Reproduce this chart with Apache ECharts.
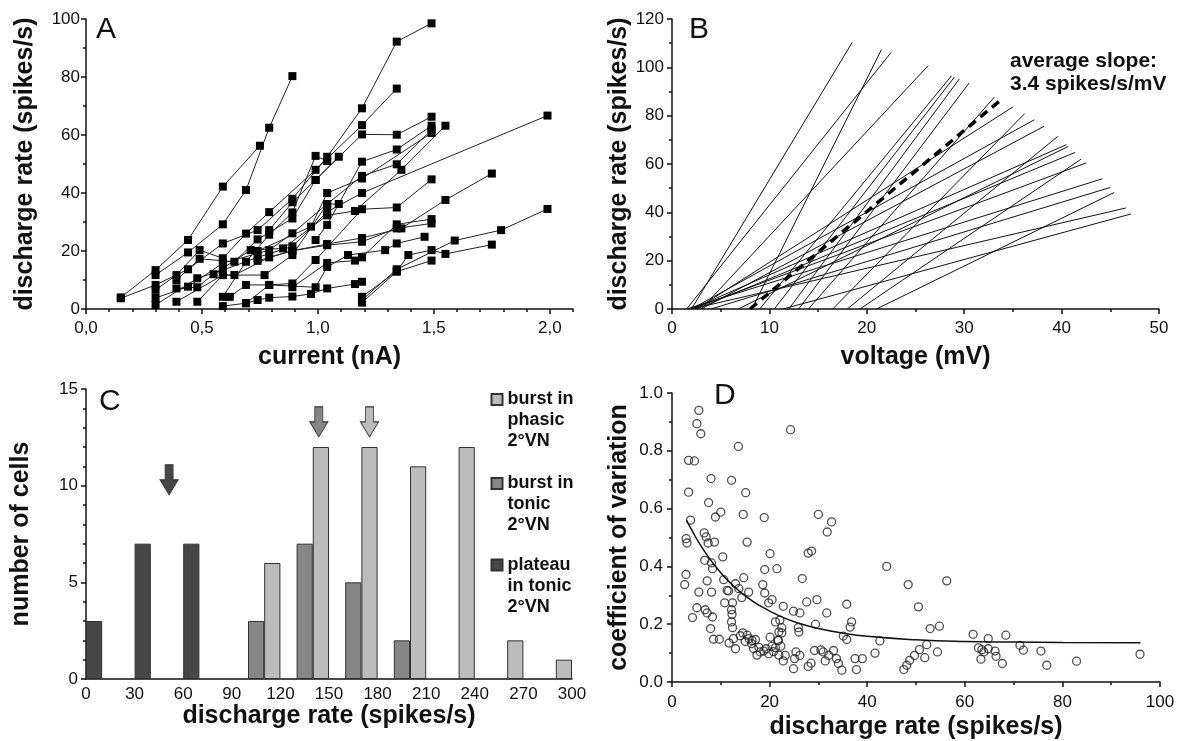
<!DOCTYPE html>
<html>
<head>
<meta charset="utf-8">
<title>Discharge properties of 2°VN</title>
<script src="https://cdn.jsdelivr.net/npm/echarts@6/dist/echarts.min.js"></script>
<style>
  html, body {margin: 0; padding: 0; background: #fff;}
  #main {width: 1180px; height: 741px;}
</style>
</head>
<body>
<div id="main"></div>
<script>
// ---- A: discharge rate for each current step, one list per cell [nA, spikes/s]
var cellsA = [
  [[0.15,4],[0.3,13.4],[0.44,23.8],[0.59,42.2],[0.75,56.3]],
  [[0.3,11.7],[0.44,19.5],[0.59,29.2],[0.69,41],[0.79,62.5],[0.89,80.3]],
  [[0.15,3.7],[0.3,8.3],[0.44,13.7],[0.59,22.6],[0.74,27.2],[0.89,38],[1.04,52.5],[1.19,69.2],[1.34,92.2],[1.49,98.5]],
  [[0.3,6.6],[0.39,11.7],[0.49,20.3],[0.59,17.5],[0.69,26],[0.79,33.4],[0.99,48],[1.19,63.4],[1.34,76]],
  [[0.39,10],[0.49,17.3],[0.64,16.3],[0.74,24],[0.89,31.2],[0.99,44.5],[1.19,60.2],[1.34,60.1],[1.49,66.3]],
  [[0.3,3.8],[0.44,7.7],[0.59,15.8],[0.79,20.3],[0.89,26.1],[1.04,36.2],[1.19,45.9],[1.34,49.9],[1.49,61.8]],
  [[0.3,1.4],[0.48,10.6],[0.59,13.4],[0.74,17.8],[0.89,21.6],[1.04,33.5],[1.19,40],[1.99,66.7]],
  [[0.39,7.1],[0.48,7.5],[0.55,12],[0.71,20.3],[0.85,20.9],[1.04,32.3],[1.16,33.8],[1.36,48],[1.55,63.2]],
  [[0.48,2.5],[0.59,11.7],[0.64,11.7],[0.79,17.8],[0.89,20.1],[1.04,22.4],[1.19,24.5],[1.36,27.8],[1.55,37.6],[1.75,46.7]],
  [[0.62,4.2],[0.69,8.3],[0.79,8.3],[0.89,8.8],[0.99,16.9],[1.19,34.4],[1.34,35],[1.49,44.7]],
  [[0.59,4.2],[0.69,16.3],[0.79,25.6],[0.89,33.3],[0.99,52.8],[1.04,51]],
  [[0.39,2.5],[0.59,11.7],[0.77,11.7],[0.89,18.6],[1.04,36.2],[1.09,36.2]],
  [[0.59,1],[0.69,2],[0.74,3.1],[0.79,3.9],[0.89,4.3],[0.97,5.2],[1.04,7.1],[1.16,8.6],[1.19,9.4]],
  [[0.69,2],[0.79,8.3],[0.99,7.5],[1.04,14.5],[1.13,18.6],[1.29,20.3],[1.34,22.6],[1.46,24.9]],
  [[1.19,2.2],[1.34,12.9],[1.49,16.7]],
  [[1.19,3.1],[1.34,13.7],[1.59,23.6],[1.79,27.2],[1.99,34.5]],
  [[1.19,4.2],[1.34,13],[1.39,18.6],[1.49,20.3],[1.55,19],[1.75,22.2]],
  [[0.89,7.5],[1.04,15.9],[1.16,16.7],[1.19,17.8],[1.34,29.2],[1.49,31]],
  [[0.99,23.8],[1.04,29],[1.19,50.8],[1.34,55],[1.49,63.2]],
  [[0.74,20],[0.97,28.4],[1.04,40],[1.19,45],[1.49,60.7]],
  [[0.74,16.6],[0.89,20.1],[1.04,22],[1.19,23.2],[1.34,27.8],[1.49,29.5]],
  [[0.79,27.2],[0.89,36.8],[0.99,44.5],[1.09,52.5]]
];
var majorTicksA = [0, 0.5, 1, 1.5, 2];
var minorTicksA = [0.1,0.2,0.3,0.4,0.6,0.7,0.8,0.9,1.1,1.2,1.3,1.4,1.6,1.7,1.8,1.9,2.1];

// ---- B: linear fits, from the x-intercept (mV) up to the last point
var fitStartB = [2, 8.2, 1.5, 3, 9, 10.5, 12, 13, 14, 2.5, 16.5, 2, 3, 18, 2, 6.8, 2.5, 19.3, 2, 1.5, 4, 21, 2, 11.4];
var fitEndXB = [18.5, 21.5, 22.5, 26.3, 28.7, 29, 29.5, 30.5, 33.1, 35, 36.2, 37.2, 38.2, 39.6, 40.5, 40.7, 41.4, 42, 42.5, 44.2, 45, 45.4, 46.6, 47.1];
var fitEndYB = [110.3, 107.3, 106.2, 100.7, 96.5, 96, 95.2, 93.5, 87.7, 83.6, 80.8, 78.3, 75.6, 71.4, 68, 67.3, 64.8, 62, 60.4, 53.9, 50.3, 48.2, 41.8, 39.3];
var avgFitB = [[8, 0], [33.7, 86.3]];

// ---- C: histogram, bins of 10 spikes/s (bin start, number of cells)
var phasicBins = [110, 140, 170, 200, 230, 260, 290];
var phasicCounts = [6, 12, 12, 11, 12, 2, 1];
var tonicBins = [100, 130, 160, 190];
var tonicCounts = [3, 7, 5, 2];
var plateauBins = [0, 30, 60];
var plateauCounts = [3, 7, 7];
var meanPlateau = [51.3, 10.3];
var meanTonic = [143.7, 13.3];
var meanPhasic = [175, 13.3];

// ---- D: coefficient of variation vs. discharge rate
var cvPoints = [
  [5.5,0.94],[5.1,0.894],[5.9,0.859],[3.4,0.767],[4.6,0.765],[13.6,0.815],[24.3,0.873],[3.4,0.657],[8.0,0.704],
  [12.2,0.698],[7.5,0.621],[15.1,0.655],[3.8,0.56],[8.9,0.571],[10.0,0.588],[14.6,0.58],[18.9,0.569],[30.0,0.58],
  [32.7,0.554],[31.8,0.519],[2.9,0.496],[6.6,0.516],[7.0,0.502],
  [3.07,0.481],[7.4,0.481],[8.7,0.484],[15.4,0.484],[10.4,0.433],[20.1,0.444],[6.7,0.421],[8.1,0.412],[8.3,0.392],
  [19.0,0.389],[2.87,0.372],[2.6,0.337],[7.2,0.35],[10.6,0.354],[14.7,0.361],[13.0,0.34],[13.7,0.323],[11.3,0.317],
  [11.6,0.315],[15.7,0.311],[5.5,0.311],[8.1,0.311],[18.6,0.337],[19.0,0.308],[20.5,0.285],[19.8,0.274],[14.3,0.292],
  [10.8,0.274],[12.4,0.274],[5.1,0.257],[6.8,0.25],[7.2,0.239],[8.3,0.225],[4.2,0.223],[12.2,0.25],[12.3,0.234],
  [12.2,0.208],[12.4,0.188],[21.2,0.208],[7.9,0.185],[8.5,0.148],[9.7,0.148],[12.6,0.15],[11.7,0.135],[13.0,0.115],
  [14.5,0.17],[15.4,0.162],[15.8,0.15],[16.4,0.144],[17.1,0.147],[16.3,0.133],[16.7,0.116],[17.4,0.093],[18.1,0.104],
  [18.8,0.107],[19.8,0.098],[20.5,0.124],[21.2,0.119],[21.7,0.144],[20.1,0.155],[21.9,0.173],[21.9,0.093],
  [14.0,0.16],[15.0,0.14],[17.8,0.12],[19.3,0.115],[20.8,0.105],
  [27.9,0.446],[28.6,0.453],[21.5,0.392],[26.7,0.358],[44.0,0.40],[27.6,0.277],[29.7,0.285],[22.8,0.262],[24.9,0.245],
  [26.2,0.239],[31.7,0.239],[35.8,0.269],[36.8,0.208],[36.5,0.19],[22.1,0.214],[22.5,0.188],[25.9,0.188],[26.0,0.173],
  [29.4,0.2],[22.5,0.17],[21.8,0.144],[22.3,0.124],[35.1,0.159],[35.8,0.147],[42.6,0.142],[23.2,0.092],[22.8,0.073],
  [25.1,0.081],[25.4,0.104],[26.2,0.092],[24.9,0.046],[29.2,0.109],[30.5,0.111],[31.0,0.104],[32.1,0.092],[31.4,0.073],
  [33.1,0.109],[33.7,0.081],[34.1,0.064],[34.8,0.041],[27.9,0.054],[28.5,0.065],[37.5,0.081],[39.0,0.081],[37.8,0.043],
  [41.6,0.1],
  [48.4,0.337],[56.3,0.35],[50.5,0.26],[52.9,0.185],[54.8,0.193],[61.7,0.165],[68.4,0.162],[64.8,0.15],[52.2,0.129],
  [50.7,0.112],[49.7,0.092],[48.7,0.075],[48.1,0.058],[47.5,0.043],[51.8,0.084],[54.4,0.104],[62.8,0.118],[63.5,0.112],
  [63.9,0.104],[64.8,0.115],[63.3,0.079],[66.2,0.107],[66.4,0.089],[67.7,0.064],[71.3,0.127],[72.0,0.11],[75.6,0.107],
  [76.8,0.058],[82.9,0.072],[95.9,0.096]
];
var fitRateD = [3, 4, 6, 8, 10, 12, 15, 18, 22, 26, 30, 35, 40, 50, 60, 70, 80, 96];
var fitCvD = [0.559, 0.527, 0.469, 0.420, 0.378, 0.342, 0.298, 0.264, 0.229, 0.203, 0.185, 0.169, 0.158, 0.146, 0.140, 0.138, 0.137, 0.136];

var FONT = '"Liberation Sans", Arial, sans-serif';
var INK = '#111';
var arrowPath = 'path://M5,0 H13 V15 H18 L9,30 L0,15 H5 Z';
var nameStyle = {fontSize: 25, fontWeight: 'bold', color: INK, fontFamily: FONT};
var lineStyle = {color: INK, width: 1.5};

function valueAxis(o) {
  var ax = {
    type: 'value', gridIndex: o.grid, min: o.min, max: o.max, interval: o.interval,
    axisLine: {show: true, onZero: false, lineStyle: lineStyle},
    axisTick: {show: true, length: 5, lineStyle: lineStyle},
    minorTick: {show: !!o.minor, splitNumber: o.minor || 5, length: 3, lineStyle: lineStyle},
    splitLine: {show: false},
    axisLabel: {fontSize: 17, color: INK, fontFamily: FONT, margin: o.margin, formatter: o.fmt},
    name: o.name, nameLocation: 'middle', nameGap: o.gap, nameTextStyle: nameStyle
  };
  return ax;
}

var xAxes = [
  // A: labels and long ticks only at the half steps, short ticks every 0.1 on a second axis
  {type: 'value', gridIndex: 0, min: 0, max: 2.1, position: 'bottom',
   axisLine: {onZero: false, lineStyle: lineStyle},
   axisTick: {length: 5, lineStyle: lineStyle, customValues: majorTicksA},
   axisLabel: {fontSize: 17, color: INK, fontFamily: FONT, margin: 11, customValues: majorTicksA,
               formatter: function(v) { return v.toFixed(1).replace('.', ','); }},
   splitLine: {show: false},
   name: 'current (nA)', nameLocation: 'middle', nameGap: 36, nameTextStyle: nameStyle},
  {type: 'value', gridIndex: 0, min: 0, max: 2.1, position: 'bottom',
   axisLine: {show: false}, axisLabel: {show: false}, splitLine: {show: false},
   axisTick: {length: 3, lineStyle: lineStyle, customValues: minorTicksA}},
  valueAxis({grid: 1, min: 0, max: 50, interval: 10, minor: 2, margin: 11, name: 'voltage (mV)', gap: 36}),
  valueAxis({grid: 2, min: 0, max: 300, interval: 30, margin: 7, name: 'discharge rate (spikes/s)', gap: 20}),
  valueAxis({grid: 3, min: 0, max: 100, interval: 20, minor: 2, margin: 12, name: 'discharge rate (spikes/s)', gap: 33})
];
xAxes[3].axisTick.show = false;

var yAxes = [
  valueAxis({grid: 0, min: 0, max: 100, interval: 20, minor: 2, margin: 6, name: 'discharge rate (spikes/s)', gap: 48}),
  valueAxis({grid: 1, min: 0, max: 120, interval: 20, minor: 2, margin: 8, name: 'discharge rate (spikes/s)', gap: 40}),
  valueAxis({grid: 2, min: 0, max: 15, interval: 5, minor: 5, margin: 8, name: 'number of cells', gap: 52}),
  valueAxis({grid: 3, min: 0, max: 1, interval: 0.2, minor: 2, margin: 9, name: 'coefficient of variation', gap: 40,
             fmt: function(v) { return v.toFixed(1); }})
];

var series = [];

// A
cellsA.forEach(function(cell) {
  series.push({
    type: 'line', xAxisIndex: 0, yAxisIndex: 0, data: cell,
    symbol: 'rect', symbolSize: 8, showAllSymbol: true,
    lineStyle: {color: '#222', width: 1}, itemStyle: {color: '#000'}
  });
});

// B
fitStartB.forEach(function(x0, i) {
  series.push({
    type: 'line', xAxisIndex: 2, yAxisIndex: 1,
    data: [[x0, 0], [fitEndXB[i], fitEndYB[i]]],
    showSymbol: false, lineStyle: {color: '#111', width: 1}
  });
});
series.push({
  type: 'line', xAxisIndex: 2, yAxisIndex: 1, data: avgFitB, showSymbol: false, z: 5,
  lineStyle: {color: '#000', width: 3.5, type: [9, 6]}
});

// C
function bins(starts, counts) {
  return starts.map(function(s, i) { return [s + 5, counts[i]]; });
}
var binWidthPx = 486 / 30;
var histGroups = [
  {name: 'burst in\nphasic\n2°VN', color: '#bcbcbc', data: bins(phasicBins, phasicCounts), mean: meanPhasic},
  {name: 'burst in\ntonic\n2°VN', color: '#868686', data: bins(tonicBins, tonicCounts), mean: meanTonic},
  {name: 'plateau\nin tonic\n2°VN', color: '#474747', data: bins(plateauBins, plateauCounts), mean: meanPlateau}
];
histGroups.forEach(function(g) {
  series.push({
    name: g.name, type: 'bar', xAxisIndex: 3, yAxisIndex: 2, data: g.data,
    barWidth: binWidthPx, barGap: '-100%',
    itemStyle: {color: g.color, borderColor: '#333', borderWidth: 1},
    markPoint: {
      symbol: arrowPath, symbolSize: [18, 30], silent: true, label: {show: false},
      itemStyle: {color: g.color, borderColor: '#333', borderWidth: 1},
      data: [{coord: g.mean}]
    }
  });
});

// D
series.push({
  type: 'scatter', xAxisIndex: 4, yAxisIndex: 3, data: cvPoints,
  symbol: 'circle', symbolSize: 8,
  itemStyle: {color: 'rgba(0,0,0,0)', borderColor: '#222', borderWidth: 1.3}
});
series.push({
  type: 'line', xAxisIndex: 4, yAxisIndex: 3, smooth: true, showSymbol: false,
  data: fitRateD.map(function(r, i) { return [r, fitCvD[i]]; }),
  lineStyle: {color: '#111', width: 1.5}
});

// two empty lines above the name keep the square level with the first line
function legendAt(name, top) {
  return {
    data: [name], left: 490.5, top: top, orient: 'vertical', padding: 0,
    icon: 'rect', itemWidth: 11, itemHeight: 11, selectedMode: false,
    formatter: function(n) { return '\n\n' + n; },
    textStyle: {fontSize: 18, fontWeight: 'bold', color: INK, fontFamily: FONT, lineHeight: 21}
  };
}

function letter(t, x, y) {
  return {type: 'text', left: x, top: y, style: {text: t, fontSize: 30, fill: INK, fontFamily: FONT}};
}

var option = {
  animation: false,
  textStyle: {fontFamily: FONT},
  grid: [
    {left: 86, top: 19, width: 487, height: 290},
    {left: 672, top: 19, width: 487, height: 290},
    {left: 86, top: 389, width: 486, height: 290},
    {left: 672, top: 393, width: 488, height: 289}
  ],
  xAxis: xAxes,
  yAxis: yAxes,
  legend: [
    legendAt(histGroups[0].name, 347),
    legendAt(histGroups[1].name, 431),
    legendAt(histGroups[2].name, 512.5)
  ],
  graphic: [
    letter('A', 96, 15),
    letter('B', 689, 15),
    letter('C', 99, 387),
    letter('D', 714, 381),
    {type: 'text', left: 1010, top: 50,
     style: {text: 'average slope:\n3.4 spikes/s/mV', fontSize: 21, fontWeight: 'bold', lineHeight: 23, fill: INK, fontFamily: FONT}}
  ],
  series: series
};

var chart = echarts.init(document.getElementById('main'));
chart.setOption(option);
</script>
</body>
</html>
